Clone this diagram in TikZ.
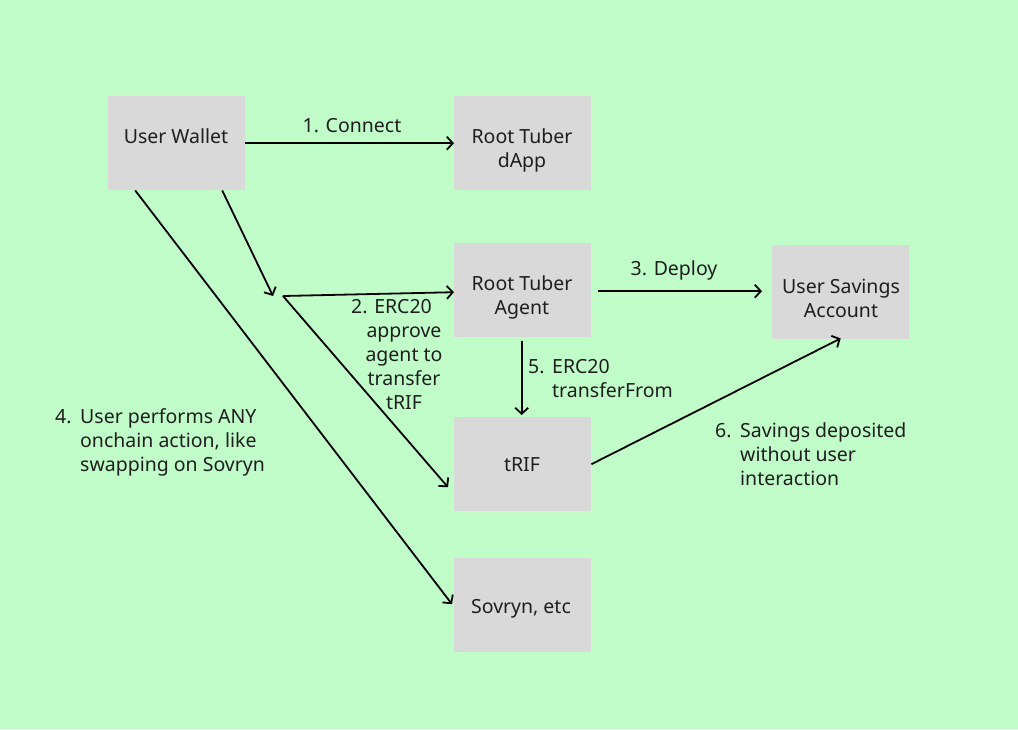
\documentclass[tikz,border=0pt]{standalone}
\usepackage{fontspec}
\setmainfont{Noto Sans}
\usetikzlibrary{arrows.meta,calc}
\definecolor{bg}{HTML}{C1FDC9}
\definecolor{boxfill}{HTML}{D9D9D9}
\definecolor{ink}{HTML}{1E1E1E}
\begin{document}
\begin{tikzpicture}[x=1pt,y=-1pt,
 box/.style={fill=boxfill, draw=none, minimum width=137pt, minimum height=94pt, inner sep=0pt, anchor=north west},
 txt/.style={anchor=base, inner sep=0pt, text=ink, font=\fontsize{19.5}{24}\selectfont},
 ltxt/.style={txt, anchor=base west},
 arr/.style={draw=black, line width=1.8pt, -{Straight Barb[length=6pt,width=13pt]}}
]
\fill[bg] (0,0) rectangle (1018,729);
\useasboundingbox (0,0) rectangle (1018,729);

% boxes
\node[box] (wallet)  at (108,96)  {};
\node[box] (dapp)    at (454,96)  {};
\node[box] (agent)   at (454,243) {};
\node[box] (savings) at (772,245) {};
\node[box] (trif)    at (454,417) {};
\node[box] (sovryn)  at (454,558) {};

% box texts
\node[txt] (walletT)  at (176,143) {User Wallet};
\node[txt] (dappT)    at (522,143) {\begin{tabular}[t]{@{}c@{}}Root Tuber\\dApp\end{tabular}};
\node[txt] (agentT)   at (522,290) {\begin{tabular}[t]{@{}c@{}}Root Tuber\\Agent\end{tabular}};
\node[txt] (savingsT) at (841,293) {\begin{tabular}[t]{@{}c@{}}User Savings\\Account\end{tabular}};
\node[txt] (trifT)    at (522,471) {tRIF};
\node[txt] (sovrynT)  at (521,613) {Sovryn, etc};

% connectors
\coordinate (j) at (283,296);
\draw[arr] (wallet.east) -- (dapp.west);
\draw[arr] ($(agent.east)+(7,1)$) -- ($(savings.west)+(-10,-1)$);
\draw[arr] ($(wallet.south)+(45.5,0)$) -- ($(j)+(-10,0)$);
\draw[arr] (j) -- ($(agent.west)+(0,2)$);
\draw[arr] (j) -- ($(trif.west)+(-6,23)$);
\draw[arr] ($(wallet.south)+(-41.5,0)$) -- ($(sovryn.west)+(-2,-1)$);
\draw[arr] ($(agent.south)+(-1,4)$) -- ($(trif.north)+(-1,-2)$);
\draw[arr] (trif.east) -- ($(savings.south)+(0,-1)$);

% labels
\node[txt] (l1) at (352,132) {1. Connect};
\node[txt] (l3) at (674,275) {3. Deploy};
\node[txt] (l2) at (404,313) {\begin{tabular}[t]{@{}c@{}}2. ERC20\hspace*{25pt}\\approve\\agent to\\transfer\\tRIF\end{tabular}};
\node[ltxt] (l4) at (55,423) {\begin{tabular}[t]{@{}l@{}}\makebox[25pt][l]{4.}User performs ANY\\\hspace*{25pt}onchain action, like\\\hspace*{25pt}swapping on Sovryn\end{tabular}};
\node[ltxt] (l5) at (528,373) {\begin{tabular}[t]{@{}l@{}}\makebox[24pt][l]{5.}ERC20\\\hspace*{24pt}transferFrom\end{tabular}};
\node[ltxt] (l6) at (715,437) {\begin{tabular}[t]{@{}l@{}}\makebox[25pt][l]{6.}Savings deposited\\\hspace*{25pt}without user\\\hspace*{25pt}interaction\end{tabular}};
\end{tikzpicture}
\end{document}
